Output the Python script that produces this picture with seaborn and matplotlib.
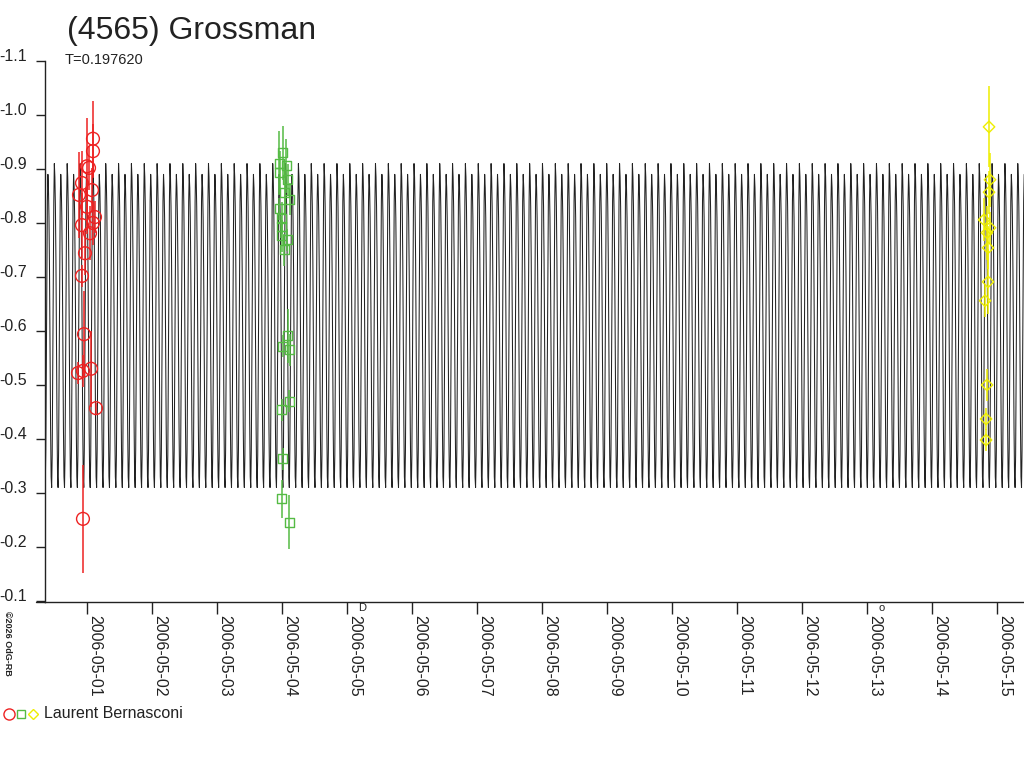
import numpy as np
import pandas as pd
import matplotlib
matplotlib.use("Agg")
import matplotlib.pyplot as plt
import seaborn as sns
from matplotlib.transforms import ScaledTranslation
from matplotlib.lines import Line2D

# ---------------- data ----------------
TITLE = "(4565) Grossman"
PERIOD_LABEL = "T=0.197620"
PERIOD = 0.197620          # days
OBSERVER = "Laurent Bernasconi"
COPYRIGHT = "©2026 OdG-RB"

# x axis: days since 2006-05-01 00:00
date_offsets = list(range(15))
date_labels = ["2006-05-01", "2006-05-02", "2006-05-03", "2006-05-04", "2006-05-05",
               "2006-05-06", "2006-05-07", "2006-05-08", "2006-05-09", "2006-05-10",
               "2006-05-11", "2006-05-12", "2006-05-13", "2006-05-14", "2006-05-15"]
y_ticks = [-1.1, -1.0, -0.9, -0.8, -0.7, -0.6, -0.5, -0.4, -0.3, -0.2, -0.1]
y_labels = ["-1.1", "-1.0", "-0.9", "-0.8", "-0.7", "-0.6", "-0.5", "-0.4", "-0.3", "-0.2", "-0.1"]

# one rotation period of the model light curve (24 phase samples)
profile_mag = [-0.910, -0.885, -0.830, -0.730, -0.580, -0.430, -0.330, -0.310,
               -0.380, -0.530, -0.700, -0.840,
               -0.890, -0.865, -0.810, -0.710, -0.560, -0.420, -0.330, -0.310,
               -0.370, -0.520, -0.690, -0.840]
curve_start = -0.70   # days, first cycle start
curve_cycles = 78

# session 1 (red circles)
red_day = [0.092, 0.092, 0.000, 0.031, -0.077, -0.123, 0.077, 0.000, 0.123, -0.077,
           0.092, 0.046, -0.031, -0.077, -0.046, -0.138, -0.062, 0.062, 0.138, -0.062]
red_mag = [-0.956, -0.933, -0.905, -0.902, -0.874, -0.852, -0.861, -0.830, -0.811, -0.796,
           -0.800, -0.781, -0.744, -0.702, -0.594, -0.522, -0.526, -0.530, -0.457, -0.252]
red_err = [0.07, 0.05, 0.09, 0.04, 0.06, 0.08, 0.04, 0.05, 0.03, 0.06,
           0.04, 0.05, 0.04, 0.02, 0.08, 0.02, 0.03, 0.07, 0.01, 0.10]

# session 2 (green squares)
green_day = [3.015, 2.954, 2.969, 3.062, 3.092, 3.046, 3.123, 2.954, 3.000, 2.985,
             3.000, 3.077, 3.031, 3.092, 3.015, 3.123, 3.108, 3.000, 3.015, 3.000, 3.108]
green_mag = [-0.930, -0.911, -0.894, -0.906, -0.880, -0.856, -0.844, -0.826, -0.809, -0.793,
             -0.776, -0.769, -0.750, -0.591, -0.572, -0.565, -0.470, -0.454, -0.363, -0.289, -0.246]
green_err = [0.05, 0.06, 0.04, 0.05, 0.03, 0.04, 0.03, 0.02, 0.03, 0.02,
             0.03, 0.02, 0.03, 0.05, 0.02, 0.03, 0.02, 0.02, 0.02, 0.035, 0.05]

# session 3 (yellow diamonds)
yellow_day = [13.877, 13.892, 13.877, 13.800, 13.892, 13.846, 13.862, 13.862, 13.815,
              13.846, 13.831, 13.831]
yellow_mag = [-0.978, -0.880, -0.857, -0.806, -0.791, -0.782, -0.754, -0.691, -0.656,
              -0.500, -0.437, -0.398]
yellow_err = [0.075, 0.05, 0.04, 0.04, 0.03, 0.05, 0.04, 0.06, 0.03, 0.03, 0.02, 0.02]

# moon phase markers (first quarter, full moon)
moon_day = [4.23, 12.23]
moon_sym = ["D", "o"]

# ---------------- style ----------------
sns.set_style("ticks")
plt.rcParams['font.family'] = ['Liberation Sans', 'DejaVu Sans']
TXT = "#222222"
RED = "#ee2222"
GREEN = "#55bb44"
YELLOW = "#eeee00"

fig = plt.figure(figsize=(10.24, 7.68), dpi=100)
W, H = 1024, 768
ax = fig.add_axes([45 / W, 1 - 602 / H, (W - 45) / W, (602 - 61) / H])

# model curve
n_ph = len(profile_mag)
days, mags = [], []
for k in range(curve_cycles):
    for i, m in enumerate(profile_mag):
        days.append(curve_start + (k + i / n_ph) * PERIOD)
        mags.append(m)
curve = pd.DataFrame({"day": days, "mag": mags})
sns.lineplot(data=curve, x="day", y="mag", sort=False, estimator=None,
             color="#222222", lw=0.75, ax=ax)

# observations
for d, m, e, col, mk, s in [
    (red_day, red_mag, red_err, RED, "o", 85),
    (green_day, green_mag, green_err, GREEN, "s", 42),
    (yellow_day, yellow_mag, yellow_err, YELLOW, "D", 34),
]:
    d = np.array(d); m = np.array(m); e = np.array(e)
    ax.vlines(d, m - e, m + e, color=col, lw=1.1, zorder=3)
    sns.scatterplot(x=d, y=m, marker=mk, s=s, facecolor="none", edgecolor=col,
                    linewidth=1.0, ax=ax, zorder=4)

ax.set_xlim(-0.646, 14.415)
ax.set_ylim(-0.098, -1.1)
ax.set_xlabel("")
ax.set_ylabel("")

for sp in ["top", "right"]:
    ax.spines[sp].set_visible(False)
for sp in ["left", "bottom"]:
    ax.spines[sp].set_color(TXT)
    ax.spines[sp].set_linewidth(1.0)

ax.set_yticks(y_ticks)
ax.set_yticklabels(y_labels)
ax.set_xticks(date_offsets)
ax.set_xticklabels(date_labels)
ax.tick_params(axis="y", direction="out", length=6.5, width=1, color=TXT,
               labelsize=11.5, labelcolor=TXT, pad=6.5)
ax.tick_params(axis="x", direction="out", length=8.6, width=1, color=TXT,
               labelsize=11.5, labelcolor=TXT, pad=0.5)
for lab in ax.get_xticklabels():
    lab.set_rotation(270)
    lab.set_rotation_mode("anchor")
    lab.set_ha("left")
    lab.set_va("bottom")
for lab in ax.get_yticklabels():
    lab.set_transform(lab.get_transform() + ScaledTranslation(0, 6 / 100, fig.dpi_scale_trans))

# x axis line continues a little left of the y axis
fig.add_artist(Line2D([36 / W, 45 / W], [1 - 602 / H, 1 - 602 / H], color=TXT, lw=1.0,
                      transform=fig.transFigure))

# moon phase glyphs just below the axis
for d, sym in zip(moon_day, moon_sym):
    ax.text(d, -0.002, sym, transform=ax.get_xaxis_transform(), fontsize=8,
            color=TXT, ha="center", va="top", clip_on=False)

# titles
fig.text(67 / W, 1 - 39 / H, TITLE, fontsize=23, color=TXT, ha="left", va="baseline")
fig.text(65 / W, 1 - 64 / H, PERIOD_LABEL, fontsize=10.5, color=TXT, ha="left", va="baseline")

# copyright
fig.text(3 / W, 1 - 611 / H, COPYRIGHT, fontsize=6.5, color=TXT, rotation=270,
         ha="left", va="top", fontweight="bold")

# legend line
ly = 1 - 714 / H
fig.add_artist(Line2D([9 / W], [ly], marker="o", ms=8, mfc="none", mec=RED, mew=1, transform=fig.transFigure))
fig.add_artist(Line2D([21 / W], [ly], marker="s", ms=6, mfc="none", mec=GREEN, mew=1, transform=fig.transFigure))
fig.add_artist(Line2D([33 / W], [ly], marker="D", ms=5.5, mfc="none", mec=YELLOW, mew=1, transform=fig.transFigure))
fig.text(44 / W, ly, OBSERVER, fontsize=11.5, color=TXT, ha="left", va="center")

fig.savefig("out.png", dpi=100, facecolor="white")
